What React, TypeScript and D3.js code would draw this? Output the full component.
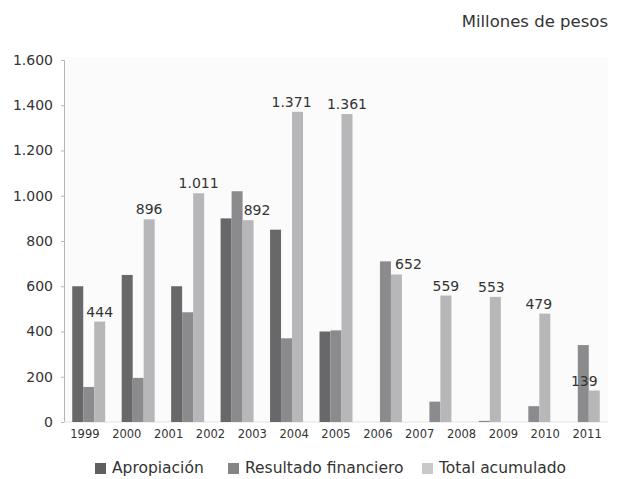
import * as d3 from "d3";
import { useEffect, useRef } from "react";

// bar groups (11 groups drawn in the source image)
const categories = ["1999", "2000", "2001", "2002", "2003", "2004", "2005", "2006", "2007", "2008", "2009"];
// axis labels shown under the chart (13 of them, evenly spread)
const tickLabels = ["1999", "2000", "2001", "2002", "2003", "2004", "2005", "2006", "2007", "2008", "2009", "2010", "2011"];

const seriesNames = ["Apropiación", "Resultado financiero", "Total acumulado"];
const apropiacion = [600, 650, 600, 900, 850, 400, 0, 0, 0, 0, 0];
const resultado = [155, 195, 485, 1020, 370, 405, 710, 90, 5, 70, 340];
const total = [444, 896, 1011, 892, 1371, 1361, 652, 559, 553, 479, 139];
const yTicks = [0, 200, 400, 600, 800, 1000, 1200, 1400, 1600];

// horizontal nudges of the value labels (as placed in the original)
const labelShift = [0, 0, 0, 9, -6, 0, 12, 0, -4, -6, -10];

const colors = ["#68686a", "#8b8b8d", "#b7b7b9"];
const legendColors = ["#5f5f61", "#858587", "#c9c9cb"];

export default function App() {
  const svgRef = useRef<SVGSVGElement | null>(null);

  useEffect(() => {
    const svg = d3.select(svgRef.current);
    svg.selectAll("*").remove();

    const width = 626;
    const height = 479;
    const margin = { top: 60, right: 18, bottom: 57, left: 64 };
    const font = "'DejaVu Sans', sans-serif";
    const textColor = "#333";

    const loc = d3.formatLocale({ decimal: ",", thousands: ".", grouping: [3], currency: ["$", ""] });
    const fmt = loc.format(",d");

    const x0 = d3
      .scaleBand<string>()
      .domain(categories)
      .range([margin.left, width - margin.right]);

    const x1 = d3
      .scaleBand<string>()
      .domain(seriesNames)
      .range([0, x0.bandwidth()])
      .paddingInner(0)
      .paddingOuter(0.75);

    const xLab = d3
      .scaleBand<string>()
      .domain(tickLabels)
      .range([margin.left, width - margin.right]);

    const y = d3
      .scaleLinear()
      .domain([0, 1600])
      .range([height - margin.bottom, margin.top]);

    // plot background
    svg
      .append("rect")
      .attr("x", margin.left)
      .attr("y", 57)
      .attr("width", width - margin.right - margin.left)
      .attr("height", y(0) - 57)
      .attr("fill", "#fbfbfb");

    // title
    svg
      .append("text")
      .attr("x", 608)
      .attr("y", 27)
      .attr("text-anchor", "end")
      .attr("font-family", font)
      .attr("font-size", 16.5)
      .attr("fill", textColor)
      .text("Millones de pesos");

    // y axis
    const yAxis = svg
      .append("g")
      .attr("transform", `translate(${margin.left},0)`)
      .call(
        d3
          .axisLeft(y)
          .tickValues(yTicks)
          .tickSize(3)
          .tickPadding(8)
          .tickFormat((d) => fmt(d as number))
      );
    yAxis.select(".domain").attr("stroke", "#b5b5b5");
    yAxis.selectAll(".tick line").attr("stroke", "#b5b5b5");
    yAxis
      .selectAll(".tick text")
      .attr("font-family", font)
      .attr("font-size", 14)
      .attr("fill", textColor);

    // baseline
    svg
      .append("line")
      .attr("x1", margin.left)
      .attr("x2", width - margin.right)
      .attr("y1", y(0))
      .attr("y2", y(0))
      .attr("stroke", "#e2e2e2");

    // x labels
    const xAxis = svg
      .append("g")
      .attr("transform", `translate(0,${y(0)})`)
      .call(d3.axisBottom(xLab).tickSize(0).tickPadding(8));
    xAxis.select(".domain").remove();
    xAxis
      .selectAll(".tick text")
      .attr("font-family", font)
      .attr("font-size", 11.5)
      .attr("fill", textColor);

    // bars
    const seriesData = [apropiacion, resultado, total];
    seriesData.forEach((vals, si) => {
      svg
        .append("g")
        .selectAll("rect")
        .data(vals)
        .join("rect")
        .attr("x", (_, i) => x0(categories[i])! + x1(seriesNames[si])!)
        .attr("y", (d) => y(d))
        .attr("width", x1.bandwidth())
        .attr("height", (d) => y(0) - y(d))
        .attr("fill", colors[si]);
    });

    // value labels on total
    svg
      .append("g")
      .selectAll("text")
      .data(total)
      .join("text")
      .attr(
        "x",
        (_, i) => x0(categories[i])! + x1(seriesNames[2])! + x1.bandwidth() / 2 + labelShift[i]
      )
      .attr("y", (d) => y(d) - 5)
      .attr("text-anchor", "middle")
      .attr("font-family", font)
      .attr("font-size", 14)
      .attr("fill", textColor)
      .text((d) => fmt(d));

    // legend
    const legendX = [95, 228, 422];
    const lg = svg.append("g");
    seriesNames.forEach((name, i) => {
      lg.append("rect")
        .attr("x", legendX[i])
        .attr("y", 463)
        .attr("width", 11)
        .attr("height", 11)
        .attr("fill", legendColors[i]);
      lg.append("text")
        .attr("x", legendX[i] + 17)
        .attr("y", 473)
        .attr("font-family", font)
        .attr("font-size", 15.5)
        .attr("fill", textColor)
        .text(name);
    });
  }, []);

  return (
    <svg
      ref={svgRef}
      width={626}
      height={479}
      style={{ position: "absolute", left: 0, top: 0, background: "#fff" }}
    ></svg>
  );
}
